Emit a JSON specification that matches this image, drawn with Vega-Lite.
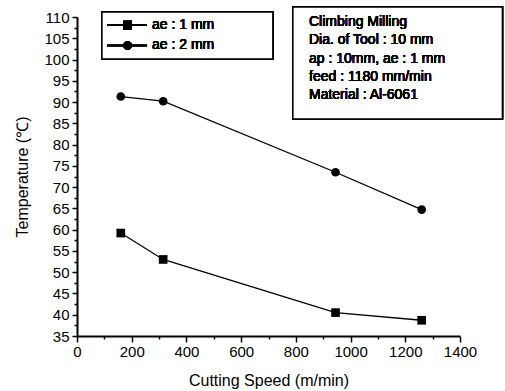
{
  "$schema": "https://vega.github.io/schema/vega-lite/v6.json",
  "width": 383,
  "height": 319,
  "autosize": {"type": "none"},
  "padding": {"left": 77, "top": 17, "right": 45, "bottom": 55},
  "background": "white",
  "config": {
    "view": {"stroke": null},
    "font": "Liberation Sans",
    "axis": {
      "grid": false,
      "domainColor": "black",
      "domainWidth": 2,
      "tickColor": "black",
      "tickWidth": 1.5,
      "labelColor": "black",
      "labelFont": "Liberation Sans",
      "labelFontSize": 15,
      "titleFont": "Liberation Sans",
      "titleFontSize": 16,
      "titleFontWeight": "normal",
      "titleColor": "black"
    }
  },
  "data": {
    "values": [
      {"speed": 160, "temp": 59.2, "series": "ae : 1 mm"},
      {"speed": 315, "temp": 53.0, "series": "ae : 1 mm"},
      {"speed": 945, "temp": 40.5, "series": "ae : 1 mm"},
      {"speed": 1260, "temp": 38.7, "series": "ae : 1 mm"},
      {"speed": 160, "temp": 91.3, "series": "ae : 2 mm"},
      {"speed": 315, "temp": 90.2, "series": "ae : 2 mm"},
      {"speed": 945, "temp": 73.5, "series": "ae : 2 mm"},
      {"speed": 1260, "temp": 64.7, "series": "ae : 2 mm"}
    ]
  },
  "encoding": {
    "x": {
      "field": "speed",
      "type": "quantitative",
      "title": "Cutting Speed (m/min)",
      "scale": {"domain": [0, 1400], "nice": false, "zero": false},
      "axis": {
        "values": [0, 100, 200, 300, 400, 500, 600, 700, 800, 900, 1000, 1100, 1200, 1300, 1400],
        "labelExpr": "datum.value % 200 === 0 ? datum.label : ''",
        "labelFlush": false,
        "labelOverlap": false,
        "format": "d",
        "tickSize": {"condition": {"test": "datum.value % 200 === 0", "value": 6}, "value": 3},
        "labelPadding": 2,
        "titlePadding": 13
      }
    },
    "y": {
      "field": "temp",
      "type": "quantitative",
      "title": "Temperature (℃)",
      "scale": {"domain": [35, 110], "nice": false, "zero": false},
      "axis": {
        "values": [35, 37.5, 40, 42.5, 45, 47.5, 50, 52.5, 55, 57.5, 60, 62.5, 65, 67.5, 70, 72.5, 75, 77.5, 80, 82.5, 85, 87.5, 90, 92.5, 95, 97.5, 100, 102.5, 105, 107.5, 110],
        "labelExpr": "datum.value % 5 === 0 ? datum.label : ''",
        "labelOverlap": false,
        "labelFlush": false,
        "format": "d",
        "tickSize": {"condition": {"test": "datum.value % 5 === 0", "value": 5}, "value": 3},
        "labelPadding": 3,
        "titlePadding": 13
      }
    }
  },
  "layer": [
    {
      "mark": {"type": "line", "color": "black", "strokeWidth": 1.3, "interpolate": "linear"},
      "encoding": {"detail": {"field": "series"}}
    },
    {
      "mark": {"type": "point", "filled": true, "color": "black", "opacity": 1, "size": 75},
      "encoding": {
        "shape": {
          "field": "series",
          "type": "nominal",
          "scale": {"domain": ["ae : 1 mm", "ae : 2 mm"], "range": ["square", "circle"]},
          "legend": null
        }
      }
    },
    {
      "mark": {"type": "rect", "fill": "white", "stroke": "black", "strokeWidth": 1.5},
      "encoding": {
        "x": {"datum": 91},
        "x2": {"datum": 716},
        "y": {"datum": 111.2},
        "y2": {"datum": 100.1}
      }
    },
    {
      "mark": {"type": "rule", "color": "black", "strokeWidth": 1.3},
      "encoding": {
        "x": {"datum": 110},
        "x2": {"datum": 256},
        "y": {"datum": 108.1}
      }
    },
    {
      "mark": {"type": "rule", "color": "black", "strokeWidth": 1.3},
      "encoding": {
        "x": {"datum": 110},
        "x2": {"datum": 256},
        "y": {"datum": 103.3}
      }
    },
    {
      "mark": {"type": "point", "shape": "square", "filled": true, "color": "black", "opacity": 1, "size": 75},
      "encoding": {
        "x": {"datum": 185},
        "y": {"datum": 108.1}
      }
    },
    {
      "mark": {"type": "point", "shape": "circle", "filled": true, "color": "black", "opacity": 1, "size": 75},
      "encoding": {
        "x": {"datum": 185},
        "y": {"datum": 103.3}
      }
    },
    {
      "mark": {"type": "text", "align": "left", "baseline": "middle", "fontSize": 14, "fontWeight": "normal", "fill": "black", "font": "Liberation Sans"},
      "encoding": {
        "x": {"datum": 274},
        "y": {"datum": 108.1},
        "text": {"value": "ae : 1 mm"}
      }
    },
    {
      "mark": {"type": "text", "align": "left", "baseline": "middle", "fontSize": 14, "fontWeight": "normal", "fill": "black", "font": "Liberation Sans"},
      "encoding": {
        "x": {"datum": 274},
        "y": {"datum": 103.3},
        "text": {"value": "ae : 2 mm"}
      }
    },
    {
      "mark": {"type": "rect", "fill": "white", "stroke": "black", "strokeWidth": 1.5},
      "encoding": {
        "x": {"datum": 789},
        "x2": {"datum": 1555},
        "y": {"datum": 112.35},
        "y2": {"datum": 86.0}
      }
    },
    {
      "mark": {"type": "text", "align": "left", "baseline": "middle", "fontSize": 14, "fontWeight": "normal", "lineHeight": 18.3, "fill": "black", "font": "Liberation Sans"},
      "encoding": {
        "x": {"datum": 848},
        "y": {"datum": 108.8},
        "text": {"value": ["Climbing Milling", "Dia. of Tool : 10 mm", "ap : 10mm, ae : 1 mm", "feed : 1180 mm/min", "Material : Al-6061"]}
      }
    }
  ]
}
